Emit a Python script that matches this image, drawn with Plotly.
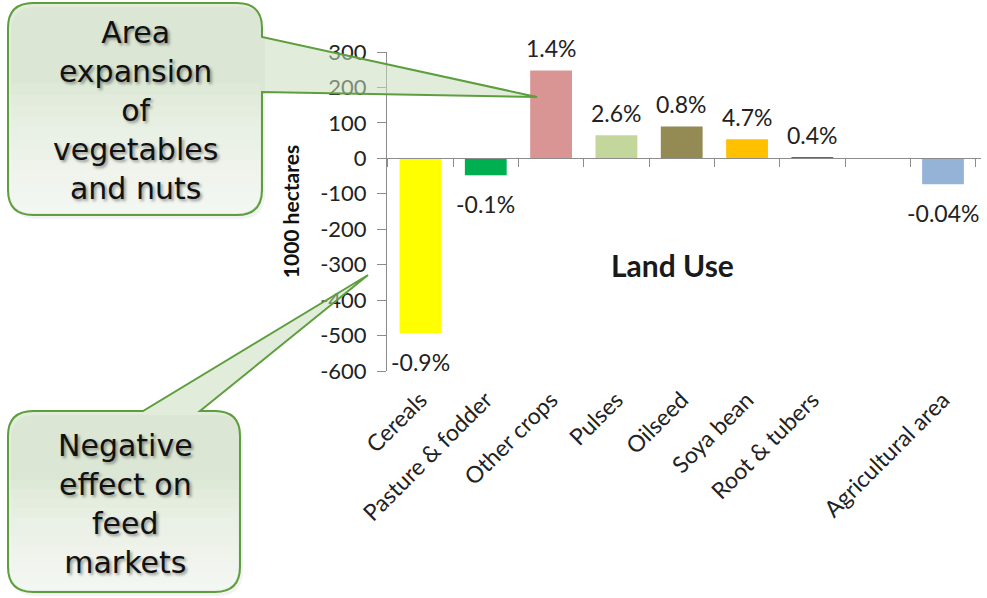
import plotly.graph_objects as go

# ---------------- data ----------------
CATEGORIES = ["Cereals", "Pasture & fodder", "Other crops", "Pulses", "Oilseed",
              "Soya bean", "Root & tubers", "Agricultural area"]
CHANGE_1000HA = [-493, -48, 248, 65, 90, 54, 4, -73]
PCT_LABELS = ["-0.9%", "-0.1%", "1.4%", "2.6%", "0.8%", "4.7%", "0.4%", "-0.04%"]
BAR_COLORS = ["#FFFF00", "#00B050", "#D99594", "#C3D69B", "#948A54",
              "#FFC000", "#2E75B6", "#95B3D7"]
# axis slots (an empty slot sits before "Agricultural area")
AXIS_SLOTS = CATEGORIES[:7] + [" "] + CATEGORIES[7:]
Y_TICKS = [300, 200, 100, 0, -100, -200, -300, -400, -500, -600]
Y_TICK_LABELS = [str(v) for v in Y_TICKS]

CALLOUT_TOP = "Area<br>expansion<br>of<br>vegetables<br>and nuts"
CALLOUT_BOTTOM = "Negative<br>effect on<br>feed<br>markets"

# ---------------- layout geometry (pixels) ----------------
W, H = 987, 598
ML, MR, MT, MB = 387, 6, 52, 227
PW, PH = W - ML - MR, H - MT - MB


def p(x, y):
    return f"{(x - ML) / PW:.5f},{(H - MB - y) / PH:.5f}"


def box_path(x0, y0, x1, y1, r, pointer=None):
    s = f"M{p(x0 + r, y0)}"
    if pointer and pointer[0] == "top":
        _, xa, xb, (tx, ty) = pointer
        s += f" L{p(xa, y0)} L{p(tx, ty)} L{p(xb, y0)}"
    s += f" L{p(x1 - r, y0)} Q{p(x1, y0)} {p(x1, y0 + r)}"
    if pointer and pointer[0] == "right":
        _, ya, yb, (tx, ty) = pointer
        s += f" L{p(x1, ya)} L{p(tx, ty)} L{p(x1, yb)}"
    s += f" L{p(x1, y1 - r)} Q{p(x1, y1)} {p(x1 - r, y1)}"
    s += f" L{p(x0 + r, y1)} Q{p(x0, y1)} {p(x0, y1 - r)}"
    s += f" L{p(x0, y0 + r)} Q{p(x0, y0)} {p(x0 + r, y0)} Z"
    return s


def bottom_path(x0, ys, x1, y1, r, inset=1.5):
    a, b, c = x0 + inset, x1 - inset, y1 - inset
    return (f"M{p(a, ys)} L{p(b, ys)} L{p(b, c - r)} Q{p(b, c)} {p(b - r, c)}"
            f" L{p(a + r, c)} Q{p(a, c)} {p(a, c - r)} Z")


fig = go.Figure()

fig.add_trace(go.Bar(
    x=CATEGORIES, y=CHANGE_1000HA, marker=dict(color=BAR_COLORS, line=dict(width=0)),
    hoverinfo="x+y", showlegend=False,
))
# invisible trace carrying the zero-line category axis
fig.add_trace(go.Scatter(
    x=AXIS_SLOTS, y=[0] * len(AXIS_SLOTS), xaxis="x2", mode="markers",
    marker=dict(opacity=0), hoverinfo="skip", showlegend=False,
))

# data labels
for cat, val, lab in zip(CATEGORIES, CHANGE_1000HA, PCT_LABELS):
    pos = val >= 0
    fig.add_annotation(
        x=cat, y=val, xref="x", yref="y", text=lab, showarrow=False,
        yanchor="bottom" if pos else "top", yshift=6 if pos else -13,
        font=dict(family="Lato", size=23, color="#222222"),
    )

fig.add_annotation(
    xref="paper", yref="paper", x=(672 - ML) / PW, y=(H - MB - 265) / PH,
    text="<b>Land Use</b>", showarrow=False, xanchor="center", yanchor="middle",
    font=dict(family="Lato", size=30, color="#1a1a1a"),
)

# callouts
FILL = "rgba(200,222,188,0.55)"
LINE = "#5E9E3E"
shapes = []
for (x0, y0, x1, y1, ptr) in [
    (8, 3, 262, 215, ("right", 37, 92, (537, 97))),
    (8, 411, 240, 592, ("top", 143, 200, (368, 275))),
]:
    path = box_path(x0, y0, x1, y1, 25, ptr)
    shapes.append(dict(type="path", xref="paper", yref="paper",
                       path=box_path(x0 + 3, y0 + 4, x1 + 3, y1 + 4, 25),
                       fillcolor="rgba(0,0,0,0.05)", line=dict(width=0), layer="above"))
    shapes.append(dict(type="path", xref="paper", yref="paper", path=path,
                       fillcolor="white", line=dict(width=0), layer="above", opacity=0.0))
    shapes.append(dict(type="path", xref="paper", yref="paper", path=path,
                       fillcolor=FILL, line=dict(width=0), layer="above"))
    hgt = y1 - y0
    n = 12
    for i in range(n):
        frac = 0.62 * (n - i) / n
        shapes.append(dict(type="path", xref="paper", yref="paper",
                           path=bottom_path(x0, y1 - hgt * frac, x1, y1, 24),
                           fillcolor="rgba(255,255,255,0.11)", line=dict(width=0), layer="above"))
    shapes.append(dict(type="path", xref="paper", yref="paper", path=path,
                       fillcolor="rgba(0,0,0,0)", line=dict(color=LINE, width=2), layer="above"))

shadow = "2px 2px 3px rgba(0,0,0,0.4)"
fig.add_annotation(xref="paper", yref="paper", x=(135 - ML) / PW, y=(H - MB - 111) / PH,
                   text=CALLOUT_TOP, showarrow=False, align="center",
                   xanchor="center", yanchor="middle",
                   font=dict(family="DejaVu Sans", size=30, color="#111111", shadow=shadow))
fig.add_annotation(xref="paper", yref="paper", x=(125 - ML) / PW, y=(H - MB - 504) / PH,
                   text=CALLOUT_BOTTOM, showarrow=False, align="center",
                   xanchor="center", yanchor="middle",
                   font=dict(family="DejaVu Sans", size=30, color="#111111", shadow=shadow))

AX = "#8c8c8c"
fig.update_layout(
    width=W, height=H, margin=dict(l=ML, r=MR, t=MT, b=MB, pad=0),
    paper_bgcolor="white", plot_bgcolor="white", bargap=0.36,
    font=dict(family="Lato", color="#222222"),
    shapes=shapes,
    xaxis=dict(type="category", categoryorder="array", categoryarray=AXIS_SLOTS,
               tickangle=-45, showline=False, ticks="", showgrid=False, zeroline=False,
               ticklabelstandoff=10,
               tickfont=dict(family="Lato", size=23, color="#222222"), fixedrange=True),
    xaxis2=dict(type="category", categoryorder="array", categoryarray=AXIS_SLOTS,
                matches="x", overlaying="x", anchor="free", side="bottom",
                position=(H - MB - (MT + 300 / 900 * PH)) / PH,
                showline=True, linecolor=AX, linewidth=1, ticks="outside",
                tickson="boundaries", ticklen=8, tickcolor=AX, showticklabels=False,
                showgrid=False, zeroline=False),
    yaxis=dict(range=[-600, 300], tickvals=Y_TICKS, ticktext=Y_TICK_LABELS,
               showline=True, linecolor=AX, linewidth=1, ticks="outside", ticklen=9,
               tickcolor=AX, showgrid=False, zeroline=False, ticklabelstandoff=6,
               tickfont=dict(family="Lato", size=22, color="#222222"),
               title=dict(text="<b>1000 hectares</b>", standoff=14,
                          font=dict(family="Lato", size=21, color="#111111"))),
)

fig.write_html("out.html")
